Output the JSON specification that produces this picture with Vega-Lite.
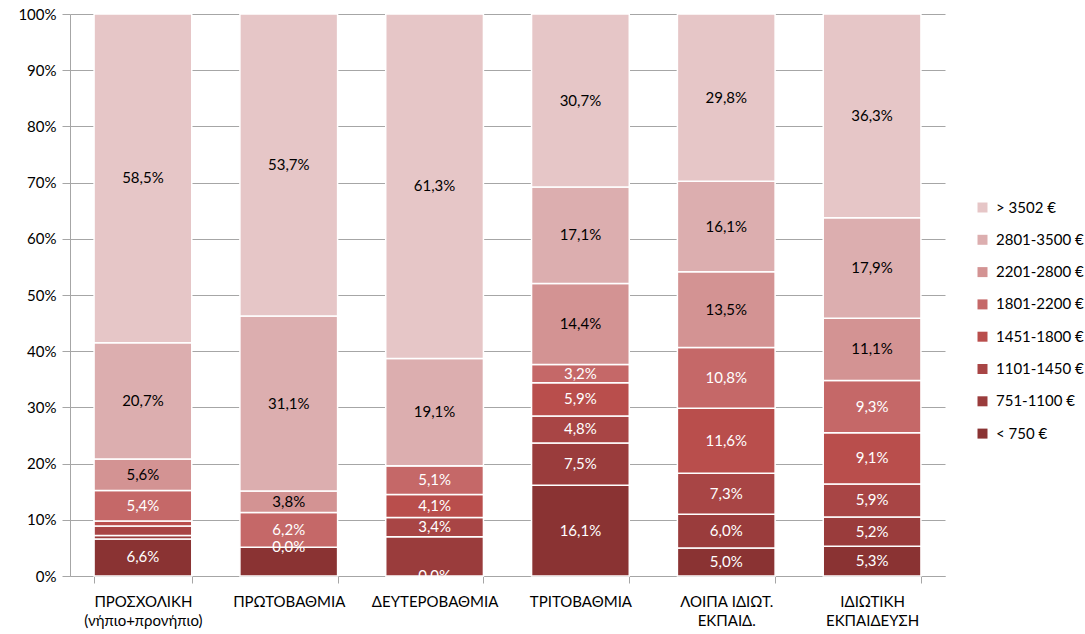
{
  "$schema": "https://vega.github.io/schema/vega-lite/v6.json",
  "width": 875,
  "height": 562,
  "autosize": {"type": "none"},
  "padding": {"left": 70, "top": 14, "right": 140, "bottom": 58},
  "background": "white",
  "config": {
    "view": {"stroke": null},
    "font": "Lato",
    "axis": {"labelFont": "Lato", "labelColor": "#000000"},
    "legend": {"labelFont": "Lato", "labelColor": "#000000"}
  },
  "data": {
    "values": [
      {"c": "ΠΡΟΣΧΟΛΙΚΗ\n(νήπιο+προνήπιο)", "b": "< 750 €", "o": 1, "v": 6.6, "t": "6,6%"},
      {"c": "ΠΡΟΣΧΟΛΙΚΗ\n(νήπιο+προνήπιο)", "b": "751-1100 €", "o": 2, "v": 0.6, "t": ""},
      {"c": "ΠΡΟΣΧΟΛΙΚΗ\n(νήπιο+προνήπιο)", "b": "1101-1450 €", "o": 3, "v": 1.7, "t": ""},
      {"c": "ΠΡΟΣΧΟΛΙΚΗ\n(νήπιο+προνήπιο)", "b": "1451-1800 €", "o": 4, "v": 0.9, "t": ""},
      {"c": "ΠΡΟΣΧΟΛΙΚΗ\n(νήπιο+προνήπιο)", "b": "1801-2200 €", "o": 5, "v": 5.4, "t": "5,4%"},
      {"c": "ΠΡΟΣΧΟΛΙΚΗ\n(νήπιο+προνήπιο)", "b": "2201-2800 €", "o": 6, "v": 5.6, "t": "5,6%"},
      {"c": "ΠΡΟΣΧΟΛΙΚΗ\n(νήπιο+προνήπιο)", "b": "2801-3500 €", "o": 7, "v": 20.7, "t": "20,7%"},
      {"c": "ΠΡΟΣΧΟΛΙΚΗ\n(νήπιο+προνήπιο)", "b": "> 3502 €", "o": 8, "v": 58.5, "t": "58,5%"},
      {"c": "ΠΡΩΤΟΒΑΘΜΙΑ", "b": "< 750 €", "o": 1, "v": 5.1, "t": ""},
      {"c": "ΠΡΩΤΟΒΑΘΜΙΑ", "b": "751-1100 €", "o": 2, "v": 0, "t": "0,0%"},
      {"c": "ΠΡΩΤΟΒΑΘΜΙΑ", "b": "1101-1450 €", "o": 3, "v": 0, "t": ""},
      {"c": "ΠΡΩΤΟΒΑΘΜΙΑ", "b": "1451-1800 €", "o": 4, "v": 0, "t": ""},
      {"c": "ΠΡΩΤΟΒΑΘΜΙΑ", "b": "1801-2200 €", "o": 5, "v": 6.2, "t": "6,2%"},
      {"c": "ΠΡΩΤΟΒΑΘΜΙΑ", "b": "2201-2800 €", "o": 6, "v": 3.8, "t": "3,8%"},
      {"c": "ΠΡΩΤΟΒΑΘΜΙΑ", "b": "2801-3500 €", "o": 7, "v": 31.1, "t": "31,1%"},
      {"c": "ΠΡΩΤΟΒΑΘΜΙΑ", "b": "> 3502 €", "o": 8, "v": 53.7, "t": "53,7%"},
      {"c": "ΔΕΥΤΕΡΟΒΑΘΜΙΑ", "b": "< 750 €", "o": 1, "v": 0, "t": "0,0%"},
      {"c": "ΔΕΥΤΕΡΟΒΑΘΜΙΑ", "b": "751-1100 €", "o": 2, "v": 7.0, "t": ""},
      {"c": "ΔΕΥΤΕΡΟΒΑΘΜΙΑ", "b": "1101-1450 €", "o": 3, "v": 3.4, "t": "3,4%"},
      {"c": "ΔΕΥΤΕΡΟΒΑΘΜΙΑ", "b": "1451-1800 €", "o": 4, "v": 4.1, "t": "4,1%"},
      {"c": "ΔΕΥΤΕΡΟΒΑΘΜΙΑ", "b": "1801-2200 €", "o": 5, "v": 5.1, "t": "5,1%"},
      {"c": "ΔΕΥΤΕΡΟΒΑΘΜΙΑ", "b": "2201-2800 €", "o": 6, "v": 0, "t": ""},
      {"c": "ΔΕΥΤΕΡΟΒΑΘΜΙΑ", "b": "2801-3500 €", "o": 7, "v": 19.1, "t": "19,1%"},
      {"c": "ΔΕΥΤΕΡΟΒΑΘΜΙΑ", "b": "> 3502 €", "o": 8, "v": 61.3, "t": "61,3%"},
      {"c": "ΤΡΙΤΟΒΑΘΜΙΑ", "b": "< 750 €", "o": 1, "v": 16.1, "t": "16,1%"},
      {"c": "ΤΡΙΤΟΒΑΘΜΙΑ", "b": "751-1100 €", "o": 2, "v": 7.5, "t": "7,5%"},
      {"c": "ΤΡΙΤΟΒΑΘΜΙΑ", "b": "1101-1450 €", "o": 3, "v": 4.8, "t": "4,8%"},
      {"c": "ΤΡΙΤΟΒΑΘΜΙΑ", "b": "1451-1800 €", "o": 4, "v": 5.9, "t": "5,9%"},
      {"c": "ΤΡΙΤΟΒΑΘΜΙΑ", "b": "1801-2200 €", "o": 5, "v": 3.2, "t": "3,2%"},
      {"c": "ΤΡΙΤΟΒΑΘΜΙΑ", "b": "2201-2800 €", "o": 6, "v": 14.4, "t": "14,4%"},
      {"c": "ΤΡΙΤΟΒΑΘΜΙΑ", "b": "2801-3500 €", "o": 7, "v": 17.1, "t": "17,1%"},
      {"c": "ΤΡΙΤΟΒΑΘΜΙΑ", "b": "> 3502 €", "o": 8, "v": 30.7, "t": "30,7%"},
      {"c": "ΛΟΙΠΑ ΙΔΙΩΤ.\nΕΚΠΑΙΔ.", "b": "< 750 €", "o": 1, "v": 5.0, "t": "5,0%"},
      {"c": "ΛΟΙΠΑ ΙΔΙΩΤ.\nΕΚΠΑΙΔ.", "b": "751-1100 €", "o": 2, "v": 6.0, "t": "6,0%"},
      {"c": "ΛΟΙΠΑ ΙΔΙΩΤ.\nΕΚΠΑΙΔ.", "b": "1101-1450 €", "o": 3, "v": 7.3, "t": "7,3%"},
      {"c": "ΛΟΙΠΑ ΙΔΙΩΤ.\nΕΚΠΑΙΔ.", "b": "1451-1800 €", "o": 4, "v": 11.6, "t": "11,6%"},
      {"c": "ΛΟΙΠΑ ΙΔΙΩΤ.\nΕΚΠΑΙΔ.", "b": "1801-2200 €", "o": 5, "v": 10.8, "t": "10,8%"},
      {"c": "ΛΟΙΠΑ ΙΔΙΩΤ.\nΕΚΠΑΙΔ.", "b": "2201-2800 €", "o": 6, "v": 13.5, "t": "13,5%"},
      {"c": "ΛΟΙΠΑ ΙΔΙΩΤ.\nΕΚΠΑΙΔ.", "b": "2801-3500 €", "o": 7, "v": 16.1, "t": "16,1%"},
      {"c": "ΛΟΙΠΑ ΙΔΙΩΤ.\nΕΚΠΑΙΔ.", "b": "> 3502 €", "o": 8, "v": 29.8, "t": "29,8%"},
      {"c": "ΙΔΙΩΤΙΚΗ\nΕΚΠΑΙΔΕΥΣΗ", "b": "< 750 €", "o": 1, "v": 5.3, "t": "5,3%"},
      {"c": "ΙΔΙΩΤΙΚΗ\nΕΚΠΑΙΔΕΥΣΗ", "b": "751-1100 €", "o": 2, "v": 5.2, "t": "5,2%"},
      {"c": "ΙΔΙΩΤΙΚΗ\nΕΚΠΑΙΔΕΥΣΗ", "b": "1101-1450 €", "o": 3, "v": 5.9, "t": "5,9%"},
      {"c": "ΙΔΙΩΤΙΚΗ\nΕΚΠΑΙΔΕΥΣΗ", "b": "1451-1800 €", "o": 4, "v": 9.1, "t": "9,1%"},
      {"c": "ΙΔΙΩΤΙΚΗ\nΕΚΠΑΙΔΕΥΣΗ", "b": "1801-2200 €", "o": 5, "v": 9.3, "t": "9,3%"},
      {"c": "ΙΔΙΩΤΙΚΗ\nΕΚΠΑΙΔΕΥΣΗ", "b": "2201-2800 €", "o": 6, "v": 11.1, "t": "11,1%"},
      {"c": "ΙΔΙΩΤΙΚΗ\nΕΚΠΑΙΔΕΥΣΗ", "b": "2801-3500 €", "o": 7, "v": 17.9, "t": "17,9%"},
      {"c": "ΙΔΙΩΤΙΚΗ\nΕΚΠΑΙΔΕΥΣΗ", "b": "> 3502 €", "o": 8, "v": 36.3, "t": "36,3%"}
    ]
  },
  "transform": [
    {"stack": "v", "groupby": ["c"], "sort": [{"field": "o", "order": "ascending"}], "offset": "normalize", "as": ["y0", "y1"]},
    {"calculate": "(datum.y0 + datum.y1) / 2", "as": "ym"}
  ],
  "encoding": {
    "x": {
      "field": "c",
      "type": "nominal",
      "sort": null,
      "title": null,
      "scale": {"paddingInner": 0.33, "paddingOuter": 0.165},
      "axis": {
        "labelAngle": 0,
        "labelExpr": "split(datum.label, '\\n')",
        "labelFontSize": 15,
        "labelLineHeight": 19,
        "labelPadding": 11,
        "tickBand": "extent",
        "tickSize": 7,
        "tickColor": "#a6a6a6",
        "domainColor": "#a6a6a6",
        "labelBaseline": "top",
        "labelLimit": 200
      }
    }
  },
  "layer": [
    {
      "mark": {"type": "bar", "stroke": "white", "strokeWidth": 1.5},
      "encoding": {
        "y": {
          "field": "y0",
          "type": "quantitative",
          "scale": {"domain": [0, 1]},
          "title": null,
          "axis": {
            "format": ".0%",
            "values": [0, 0.1, 0.2, 0.3, 0.4, 0.5, 0.6, 0.7, 0.8, 0.9, 1],
            "labelOverlap": false,
            "grid": true,
            "gridColor": "#a6a6a6",
            "domainColor": "#a6a6a6",
            "tickColor": "#a6a6a6",
            "tickSize": 8,
            "labelPadding": 6,
            "labelFontSize": 15
          }
        },
        "y2": {"field": "y1"},
        "color": {
          "field": "b",
          "type": "nominal",
          "scale": {
            "domain": ["> 3502 €", "2801-3500 €", "2201-2800 €", "1801-2200 €", "1451-1800 €", "1101-1450 €", "751-1100 €", "< 750 €"],
            "range": ["#e6c6c7", "#dcaeaf", "#d39393", "#c56868", "#b94e4c", "#a84545", "#9a3c3c", "#8a3333"]
          },
          "legend": {
            "title": null,
            "orient": "none",
            "legendX": 905,
            "legendY": 186,
            "symbolType": "square",
            "symbolSize": 100,
            "symbolStrokeWidth": 0,
            "labelFontSize": 15,
            "rowPadding": 16.3,
            "labelOffset": 6,
            "padding": 0
          }
        }
      }
    },
    {
      "mark": {"type": "text", "fontSize": 15, "baseline": "middle", "align": "center"},
      "encoding": {
        "y": {
          "field": "ym",
          "type": "quantitative",
          "axis": {
            "format": ".0%",
            "values": [0, 0.1, 0.2, 0.3, 0.4, 0.5, 0.6, 0.7, 0.8, 0.9, 1],
            "labelOverlap": false,
            "grid": true,
            "gridColor": "#a6a6a6",
            "domainColor": "#a6a6a6",
            "tickColor": "#a6a6a6",
            "tickSize": 8,
            "labelPadding": 6,
            "labelFontSize": 15
          }
        },
        "text": {"field": "t"},
        "color": {
          "condition": {"test": "datum.o >= 6", "value": "#000000"},
          "value": "#ffffff"
        }
      }
    }
  ]
}
